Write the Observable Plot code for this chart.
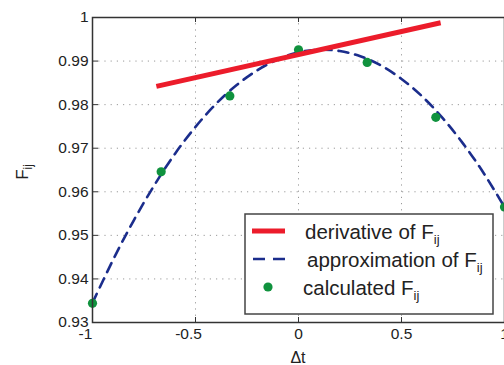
<!DOCTYPE html>
<html>
<head>
<meta charset="utf-8">
<script src="https://cdn.jsdelivr.net/npm/d3@7"></script>
<script src="https://cdn.jsdelivr.net/npm/@observablehq/plot@0.6"></script>
<style>
  html, body { margin: 0; padding: 0; background: #fff; }
  #chart { position: relative; width: 504px; height: 365px; overflow: hidden; }
  #chart svg { display: block; }
</style>
</head>
<body>
<div id="chart"></div>
<script>
// ---- data ----
const calcDt = [-1, -2/3, -1/3, 0, 1/3, 2/3, 1];
const calcF  = [0.9344, 0.9646, 0.9820, 0.9926, 0.9897, 0.9771, 0.9565];

const approxDt = [-1, -0.9, -0.8, -0.7, -0.6, -0.5, -0.4, -0.3, -0.2, -0.1, 0,
                  0.1, 0.2, 0.3, 0.4, 0.5, 0.6, 0.7, 0.8, 0.9, 1];
const approxF  = [0.9345, 0.9444, 0.9534, 0.9615, 0.9687, 0.9749, 0.9802, 0.9845, 0.9879, 0.9904, 0.9920,
                  0.9926, 0.9923, 0.9911, 0.9890, 0.9859, 0.9819, 0.9769, 0.9710, 0.9642, 0.9565];

const derivDt = [-0.69, 0.69];
const derivF  = [0.9842, 0.9988];

const xTicks = [-1, -0.5, 0, 0.5, 1];
const xTickLabels = ["-1", "-0.5", "0", "0.5", "1"];
const yTicks = [0.93, 0.94, 0.95, 0.96, 0.97, 0.98, 0.99, 1];
const yTickLabels = ["0.93", "0.94", "0.95", "0.96", "0.97", "0.98", "0.99", "1"];

const legendLabels = ["derivative of ", "approximation of ", "calculated "];
const xLabel = "Δt";
const yLabelMain = "F", yLabelSub = "ij";

// ---- tables ----
const calc = calcDt.map((d, i) => ({dt: d, f: calcF[i]}));
const approx = approxDt.map((d, i) => ({dt: d, f: approxF[i]}));
const deriv = derivDt.map((d, i) => ({dt: d, f: derivF[i]}));

const RED = "#ec1c2b", BLUE = "#1b2d8c", GREEN = "#10923e";
const FONT = "'Liberation Sans', Arial, Helvetica, sans-serif";
const innerX = xTicks.filter(d => d > -1 && d < 1);
const innerY = yTicks.filter(d => d > 0.93 && d < 1);
const xLab = d => xTickLabels[xTicks.indexOf(d)];
const yLab = d => yTickLabels[yTicks.indexOf(d)];

const plot = Plot.plot({
  width: 504,
  height: 365,
  marginLeft: 92,
  marginRight: 0,
  marginTop: 17,
  marginBottom: 43,
  style: {fontFamily: FONT, fontSize: "15.5px", color: "#222", background: "#fff", overflow: "hidden"},
  x: {domain: [-1, 1], axis: null},
  y: {domain: [0.93, 1], axis: null},
  marks: [
    Plot.gridX(innerX, {stroke: "#9a9a9a", strokeOpacity: 1, strokeDasharray: "1.2,5"}),
    Plot.gridY(innerY, {stroke: "#9a9a9a", strokeOpacity: 1, strokeDasharray: "1.2,5"}),
    Plot.tickX(xTicks, {x: d => d, insetTop: 300, stroke: "#333"}),
    Plot.tickX(xTicks, {x: d => d, insetBottom: 300, stroke: "#333"}),
    Plot.tickY(yTicks, {y: d => d, insetRight: 406, stroke: "#333"}),
    Plot.axisY(yTicks, {tickSize: 0, tickPadding: 4, tickFormat: yLab, label: null, fontSize: 15.5, fill: "#222"}),
    Plot.text(xTicks.filter(d => d < 0), {x: d => d, text: xLab, frameAnchor: "bottom", dy: 16, dx: -7, fontSize: 15.5, fill: "#222"}),
    Plot.text(xTicks.filter(d => d >= 0), {x: d => d, text: xLab, frameAnchor: "bottom", dy: 16, fontSize: 15.5, fill: "#222"}),
    Plot.line(approx, {x: "dt", y: "f", stroke: BLUE, strokeWidth: 2.6, strokeDasharray: "10,7", curve: "natural"}),
    Plot.dot(calc, {x: "dt", y: "f", r: 4.6, fill: GREEN, stroke: null}),
    Plot.line(deriv, {x: "dt", y: "f", stroke: RED, strokeWidth: 5, strokeLinecap: "butt"}),
    Plot.frame({stroke: "#333", strokeWidth: 1.5})
  ]
});

document.getElementById("chart").appendChild(plot);

// ---- axis titles and legend (layout only) ----
const svg = d3.select(plot);

svg.append("text")
  .attr("x", 298).attr("y", 363)
  .attr("text-anchor", "middle")
  .attr("font-family", FONT).attr("font-size", 16).attr("fill", "#222")
  .text(xLabel);

const yt = svg.append("text")
  .attr("transform", "translate(28,172) rotate(-90)")
  .attr("text-anchor", "middle")
  .attr("font-family", FONT).attr("font-size", 17).attr("fill", "#222");
yt.append("tspan").text(yLabelMain);
yt.append("tspan").attr("dy", 4).attr("font-size", 12).text(yLabelSub);

const lg = svg.append("g").attr("font-family", FONT).attr("fill", "#222").attr("text-anchor", "start");
lg.append("rect")
  .attr("x", 245).attr("y", 214).attr("width", 248).attr("height", 100)
  .attr("fill", "#fff").attr("stroke", "#444").attr("stroke-width", 1.5);

const rowY = [231, 259, 287];
const textX = [305, 307, 303];
lg.append("line").attr("x1", 252).attr("x2", 285).attr("y1", rowY[0]).attr("y2", rowY[0])
  .attr("stroke", RED).attr("stroke-width", 5);
lg.append("line").attr("x1", 253).attr("x2", 285).attr("y1", rowY[1]).attr("y2", rowY[1])
  .attr("stroke", BLUE).attr("stroke-width", 2.6).attr("stroke-dasharray", "12,8");
lg.append("circle").attr("cx", 268).attr("cy", rowY[2]).attr("r", 4.6).attr("fill", GREEN);

legendLabels.forEach((lab, i) => {
  const t = lg.append("text")
    .attr("x", textX[i]).attr("y", rowY[i] + 8)
    .attr("text-anchor", "start")
    .attr("font-size", 20.5);
  t.append("tspan").text(lab + yLabelMain);
  t.append("tspan").attr("dy", 5).attr("font-size", 13).text(yLabelSub);
});
</script>
</body>
</html>
